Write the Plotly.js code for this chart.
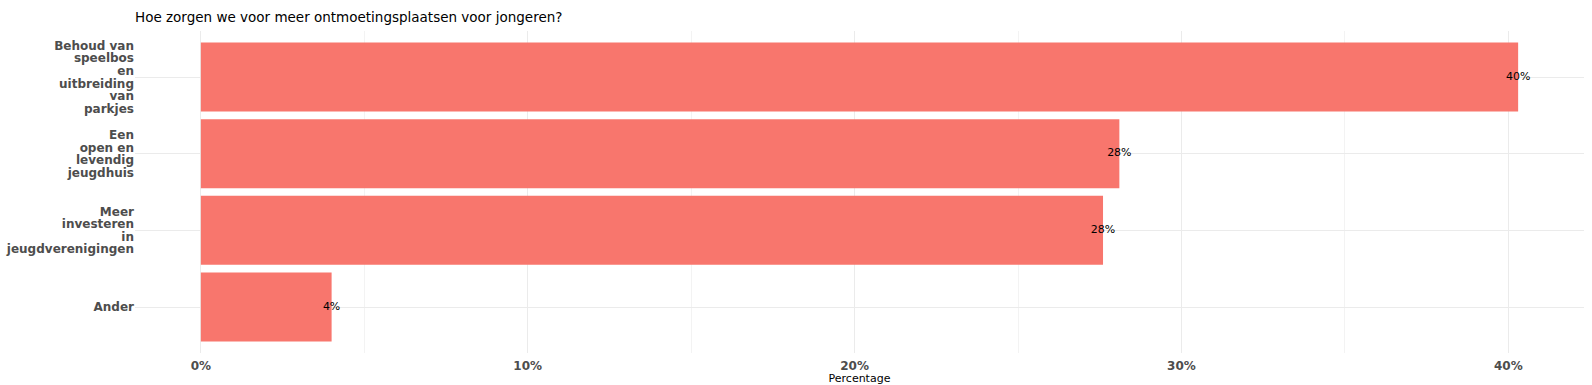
<!DOCTYPE html>
<html>
<head>
<meta charset="utf-8">
<script src="https://cdn.plot.ly/plotly-3.0.1.min.js"></script>
<style>html,body{margin:0;padding:0;background:#fff;}#chart{width:1592px;height:385px;}</style>
</head>
<body>
<div id="chart"></div>
<script>
const categories = [
  "Behoud van<br>speelbos<br>en<br>uitbreiding<br>van<br>parkjes",
  "Een<br>open en<br>levendig<br>jeugdhuis",
  "Meer<br>investeren<br>in<br>jeugdverenigingen",
  "Ander"
];
const percentages = [40.3, 28.1, 27.6, 4.0];
const valueLabels = ["40%", "28%", "28%", "4%"];
const tickValues = [0, 10, 20, 30, 40];
const tickLabels = ["0%", "10%", "20%", "30%", "40%"];

const maxVal = Math.max(...percentages);
const font = "DejaVu Sans, sans-serif";

const bars = {
  type: "bar",
  orientation: "h",
  x: percentages,
  y: categories,
  marker: {color: "#F8766D"},
  hoverinfo: "skip",
  showlegend: false
};
const labels = {
  type: "scatter",
  mode: "text",
  x: percentages,
  y: categories,
  text: valueLabels,
  textposition: "middle center",
  textfont: {family: font, size: 11, color: "#000000"},
  hoverinfo: "skip",
  showlegend: false
};

const layout = {
  width: 1592,
  height: 385,
  paper_bgcolor: "#ffffff",
  plot_bgcolor: "#ffffff",
  margin: {l: 135, r: 8, t: 31, b: 32},
  bargap: 0.1,
  title: {
    text: "Hoe zorgen we voor meer ontmoetingsplaatsen voor jongeren?",
    font: {family: font, size: 13.5, color: "#000000"},
    x: 0, xref: "paper", xanchor: "left",
    y: 1 - 17/385, yref: "container", yanchor: "middle"
  },
  xaxis: {
    range: [-0.05*maxVal, 1.05*maxVal],
    tickvals: tickValues,
    ticktext: tickLabels,
    tickfont: {family: font, size: 12, color: "#4d4d4d", weight: "bold"},
    showgrid: true,
    gridcolor: "#ebebeb",
    gridwidth: 1,
    minor: {dtick: 5, tick0: 5, showgrid: true, gridcolor: "#f3f3f3", gridwidth: 1, ticks: ""},
    zeroline: false,
    showline: false,
    ticks: "",
    ticklabelstandoff: 4,
    title: {text: "Percentage", font: {family: font, size: 11, color: "#000000"}, standoff: 3},
    fixedrange: true
  },
  yaxis: {
    categoryorder: "array",
    categoryarray: categories.slice().reverse(),
    range: [-0.6, 3.6],
    tickfont: {family: font, size: 12, color: "#4d4d4d", weight: "bold"},
    showgrid: true,
    gridcolor: "#ebebeb",
    gridwidth: 1,
    zeroline: false,
    showline: false,
    ticks: "",
    ticklabelstandoff: 0,
    fixedrange: true
  }
};

Plotly.newPlot("chart", [bars, labels], layout, {displayModeBar: false, staticPlot: true}).then(function (gd) {
  // tighten line spacing of multi-line category labels (ggplot-like lineheight)
  gd.querySelectorAll(".ytick text").forEach(function (t) {
    const lines = t.querySelectorAll("tspan.line");
    if (lines.length < 2) return;
    const b0 = t.getBBox();
    const c0 = b0.y + b0.height / 2;
    lines.forEach(function (s, i) { s.setAttribute("dy", (i * 1.05) + "em"); });
    const b1 = t.getBBox();
    const c1 = b1.y + b1.height / 2;
    const prev = t.getAttribute("transform") || "";
    t.setAttribute("transform", prev + " translate(0," + (c0 - c1) + ")");
  });
});
</script>
</body>
</html>
